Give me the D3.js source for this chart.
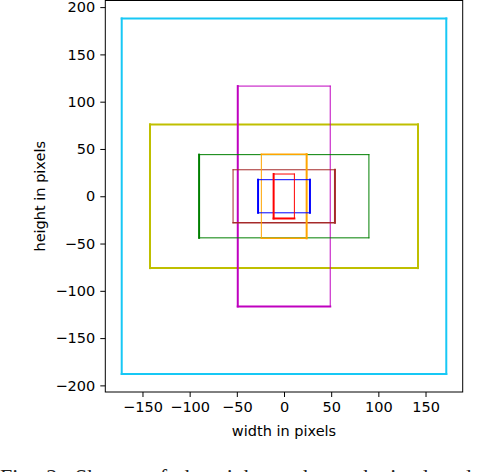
<!DOCTYPE html>
<html><head><meta charset="utf-8">
<script src="https://cdn.jsdelivr.net/npm/d3@7"></script>
<style>body{margin:0;background:#fff;} svg{display:block;}</style>
</head><body>
<script>
// Anchor shapes (half-width, half-height in pixels), all centred at 0
const anchorNames = ["cyan","yellow","magenta","green","brown","orange","blue","red"];
const halfWidths  = [172, 142, 49, 90, 54, 24, 27.5, 11];
const halfHeights = [188, 76, 116.5, 44, 28, 44.5, 17.5, 23.5];
const xTicks = [-150,-100,-50,0,50,100,150];
const yTicks = [-200,-150,-100,-50,0,50,100,150,200];
const caption = "Fig. 2: Shapes of the eight anchors obtained and the learned";

// styles: colour and per-side widths [top, right, bottom, left]
const colors = ["#17c8f5","#bfbf00","#bf00bf","#007f00","#a52a2a","#ffa500","#0000ff","#ff0000"];
const sideWidths = [[2,2,2,2],[2,2,2,2],[1,1,2,2],[1,1,1,2],[1,2,1.3,1],[1.5,2,1.5,1],[1,2,1,2],[1,1,2,2]];

const W=488,H=472;
const svg=d3.select("body").append("svg").attr("width",W).attr("height",H);
const L=105.3,R=462.7,T=0.5,B=392;
const x=d3.scaleLinear().domain([-189.4,189.4]).range([L,R]);
const y=d3.scaleLinear().domain([-207,207]).range([B,T]);
const font="DejaVu Sans";

const g=svg.append("g");
anchorNames.forEach((n,i)=>{
  const x0=x(-halfWidths[i]),x1=x(halfWidths[i]),y0=y(halfHeights[i]),y1=y(-halfHeights[i]);
  const sw=sideWidths[i];
  const sides=[[x0,y0,x1,y0],[x1,y0,x1,y1],[x1,y1,x0,y1],[x0,y1,x0,y0]];
  sides.forEach((s,k)=>{
    g.append("line").attr("x1",s[0]).attr("y1",s[1]).attr("x2",s[2]).attr("y2",s[3])
     .attr("stroke",colors[i]).attr("stroke-width",sw[k]).attr("stroke-linecap","square");
  });
});

const fmt=d=>d3.format("d")(d).replace("-","\u2212");
const xa=svg.append("g").attr("transform",`translate(0,${B})`)
  .call(d3.axisBottom(x).tickValues(xTicks).tickSize(5).tickPadding(5).tickFormat(fmt));
const ya=svg.append("g").attr("transform",`translate(${L},0)`)
  .call(d3.axisLeft(y).tickValues(yTicks).tickSize(5).tickPadding(5).tickFormat(fmt));
[xa,ya].forEach(a=>{a.select(".domain").remove();a.selectAll("text").attr("font-family",font).attr("font-size",14.5).attr("fill","#000");a.selectAll("line").attr("stroke","#000").attr("stroke-width",1);});

svg.append("rect").attr("x",L).attr("y",T).attr("width",R-L).attr("height",B-T)
  .attr("fill","none").attr("stroke","#000").attr("stroke-width",1);

svg.append("text").attr("x",(L+R)/2).attr("y",436).attr("text-anchor","middle")
  .attr("font-family",font).attr("font-size",14.5).text("width in pixels");
svg.append("text").attr("transform",`translate(45,${(T+B)/2}) rotate(-90)`).attr("text-anchor","middle")
  .attr("font-family",font).attr("font-size",14.5).text("height in pixels");

svg.append("text").attr("x",0).attr("y",484).attr("font-family","Liberation Serif").attr("font-size",22)
  .attr("fill","#222").attr("word-spacing",6).text(caption);
</script>
</body></html>
